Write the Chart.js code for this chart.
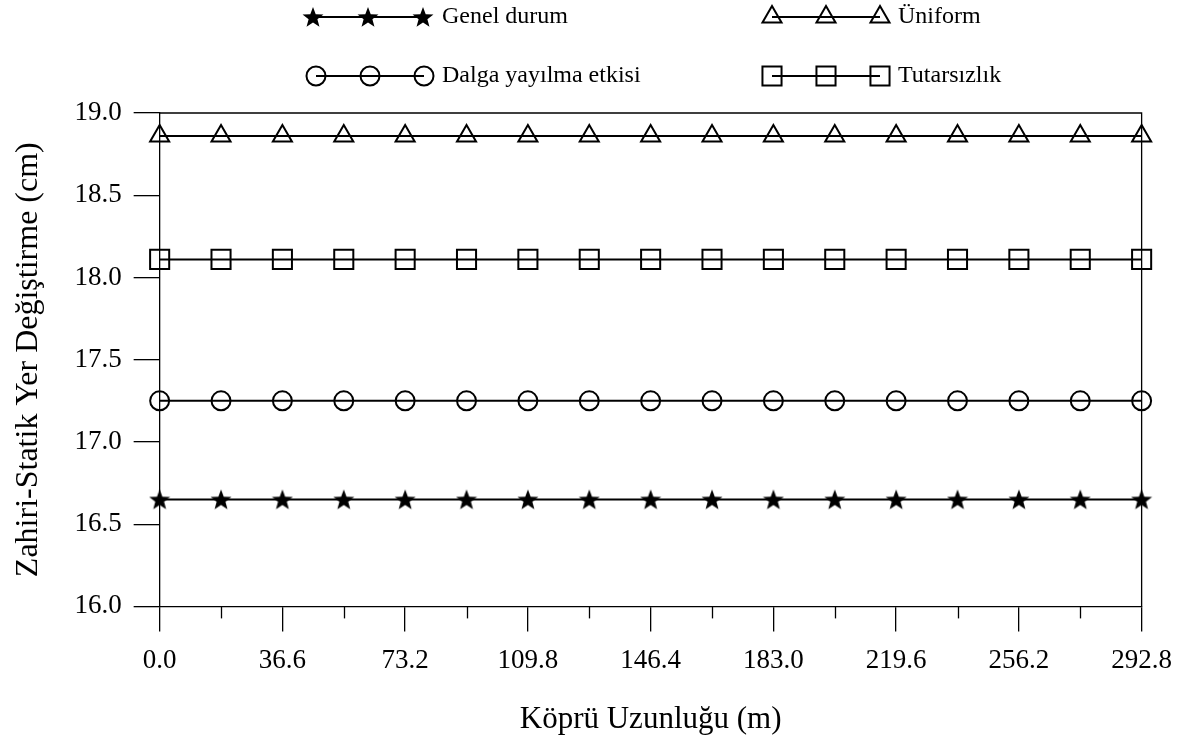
<!DOCTYPE html>
<html>
<head>
<meta charset="utf-8">
<script src="https://cdn.jsdelivr.net/npm/chart.js@4.4.0/dist/chart.umd.min.js"></script>
<style>
html,body{margin:0;padding:0;background:#fff;}
#wrap{width:1185px;height:738px;position:relative;}
</style>
</head>
<body>
<div id="wrap"><canvas id="c"></canvas></div>
<script>
// ---- data ----
const xPositions = [0, 18.3, 36.6, 54.9, 73.2, 91.5, 109.8, 128.1, 146.4, 164.7, 183.0, 201.3, 219.6, 237.9, 256.2, 274.5, 292.8];
const xTickValues = [0, 18.3, 36.6, 54.9, 73.2, 91.5, 109.8, 128.1, 146.4, 164.7, 183.0, 201.3, 219.6, 237.9, 256.2, 274.5, 292.8];
const yTickValues = [16.0, 16.5, 17.0, 17.5, 18.0, 18.5, 19.0];
const seriesNames = ['Genel durum', 'Üniform', 'Dalga yayılma etkisi', 'Tutarsızlık'];
const genelDurum = [16.65, 16.65, 16.65, 16.65, 16.65, 16.65, 16.65, 16.65, 16.65, 16.65, 16.65, 16.65, 16.65, 16.65, 16.65, 16.65, 16.65];
const uniform = [18.86, 18.86, 18.86, 18.86, 18.86, 18.86, 18.86, 18.86, 18.86, 18.86, 18.86, 18.86, 18.86, 18.86, 18.86, 18.86, 18.86];
const dalga = [17.25, 17.25, 17.25, 17.25, 17.25, 17.25, 17.25, 17.25, 17.25, 17.25, 17.25, 17.25, 17.25, 17.25, 17.25, 17.25, 17.25];
const tutarsizlik = [18.11, 18.11, 18.11, 18.11, 18.11, 18.11, 18.11, 18.11, 18.11, 18.11, 18.11, 18.11, 18.11, 18.11, 18.11, 18.11, 18.11];

const FONT = '"Liberation Serif", "Times New Roman", serif';

// filled star marker
function makeStar(size) {
  const cv = document.createElement('canvas');
  cv.width = size; cv.height = size;
  const g = cv.getContext('2d');
  const cx = size / 2, cy = size / 2 + size * 0.04, R = size / 2, r = R * 0.42;
  g.beginPath();
  for (let i = 0; i < 10; i++) {
    const ang = -Math.PI / 2 + i * Math.PI / 5;
    const rad = i % 2 === 0 ? R : r;
    const px = cx + Math.cos(ang) * rad, py = cy + Math.sin(ang) * rad;
    if (i === 0) g.moveTo(px, py); else g.lineTo(px, py);
  }
  g.closePath();
  g.fillStyle = '#000';
  g.fill();
  return cv;
}
const starImg = makeStar(22);

function toXY(vals) { return vals.map((v, i) => ({x: xPositions[i], y: v})); }

const common = {borderColor: '#000', backgroundColor: 'rgba(0,0,0,0)', borderWidth: 2, pointBorderWidth: 2, pointBorderColor: '#000', pointBackgroundColor: 'rgba(0,0,0,0)', clip: false, tension: 0};

const datasets = [
  Object.assign({}, common, {label: seriesNames[0], data: toXY(genelDurum), pointStyle: starImg, pointRadius: 11}),
  Object.assign({}, common, {label: seriesNames[1], data: toXY(uniform), pointStyle: 'triangle', pointRadius: 11}),
  Object.assign({}, common, {label: seriesNames[2], data: toXY(dalga), pointStyle: 'circle', pointRadius: 9.5}),
  Object.assign({}, common, {label: seriesNames[3], data: toXY(tutarsizlik), pointStyle: 'rect', pointRadius: 13.5}),
];

// legend layout (2 x 2)
const legendSlots = [
  {x0: 313, x1: 423, y: 17, tx: 442},
  {x0: 772, x1: 880, y: 17, tx: 898},
  {x0: 316, x1: 424, y: 76, tx: 442},
  {x0: 772, x1: 880, y: 76, tx: 898},
];

const framePlugin = {
  id: 'frame',
  afterDraw(chart) {
    const ctx = chart.ctx, a = chart.chartArea;
    ctx.save();
    ctx.strokeStyle = '#000';
    ctx.lineWidth = 1.3;
    ctx.beginPath();
    ctx.moveTo(a.left, a.top); ctx.lineTo(a.right, a.top); ctx.lineTo(a.right, a.bottom);
    ctx.stroke();
    // minor ticks
    const xs = chart.scales.x;
    xs.ticks.forEach((t, i) => {
      if (i % 2 === 1) {
        const px = Math.round(xs.getPixelForValue(t.value)) + 0.5;
        ctx.beginPath();
        ctx.moveTo(px, a.bottom);
        ctx.lineTo(px, a.bottom + 12);
        ctx.stroke();
      }
    });
    ctx.restore();

    // legend
    ctx.save();
    chart.data.datasets.forEach((ds, i) => {
      const s = legendSlots[i];
      ctx.strokeStyle = '#000';
      ctx.lineWidth = 2;
      ctx.beginPath();
      ctx.moveTo(s.x0, s.y); ctx.lineTo(s.x1, s.y); ctx.stroke();
      const xm = [s.x0, (s.x0 + s.x1) / 2, s.x1];
      xm.forEach(px => {
        ctx.strokeStyle = '#000';
        ctx.fillStyle = 'rgba(0,0,0,0)';
        ctx.lineWidth = 2;
        Chart.helpers.drawPoint(ctx, {pointStyle: ds.pointStyle, radius: ds.pointRadius, rotation: 0, borderWidth: 2}, px, s.y);
      });
      ctx.fillStyle = '#000';
      ctx.font = '24px ' + FONT;
      ctx.textBaseline = 'middle';
      ctx.textAlign = 'left';
      ctx.fillText(ds.label, s.tx, s.y);
    });
    ctx.restore();
  }
};

new Chart(document.getElementById('c'), {
  type: 'line',
  data: {datasets},
  plugins: [framePlugin],
  options: {
    responsive: true,
    maintainAspectRatio: false,
    animation: false,
    layout: {padding: {top: 113, right: 38, left: 9, bottom: 0}},
    plugins: {legend: {display: false}, tooltip: {enabled: false}},
    scales: {
      x: {
        type: 'linear',
        min: 0, max: 292.8,
        afterBuildTicks: (scale) => { scale.ticks = xTickValues.map(v => ({value: v})); },
        grid: {drawOnChartArea: false, tickLength: 25, color: '#000', lineWidth: 1.3,
               tickColor: (c) => (c.index % 2 === 0 ? '#000' : 'rgba(0,0,0,0)')},
        border: {display: true, color: '#000', width: 1.3},
        ticks: {color: '#000', font: {family: FONT, size: 27}, padding: 13, autoSkip: false, maxRotation: 0,
                callback: (v, i) => (i % 2 === 0 ? Number(v).toFixed(1) : '')},
        title: {display: true, text: 'Köprü Uzunluğu (m)', color: '#000', font: {family: FONT, size: 31}, padding: {top: 11, bottom: 0}}
      },
      y: {
        type: 'linear',
        min: 16, max: 19,
        afterBuildTicks: (scale) => { scale.ticks = yTickValues.map(v => ({value: v})); },
        grid: {drawOnChartArea: false, tickLength: 26, color: '#000', lineWidth: 1.3},
        border: {display: true, color: '#000', width: 1.3},
        ticks: {color: '#000', font: {family: FONT, size: 27}, padding: 12, callback: (v) => Number(v).toFixed(1)},
        title: {display: true, text: 'Zahiri-Statik Yer Değiştirme (cm)', color: '#000', font: {family: FONT, size: 32}, padding: {top: 0, bottom: 15}}
      }
    }
  }
});
</script>
</body>
</html>
